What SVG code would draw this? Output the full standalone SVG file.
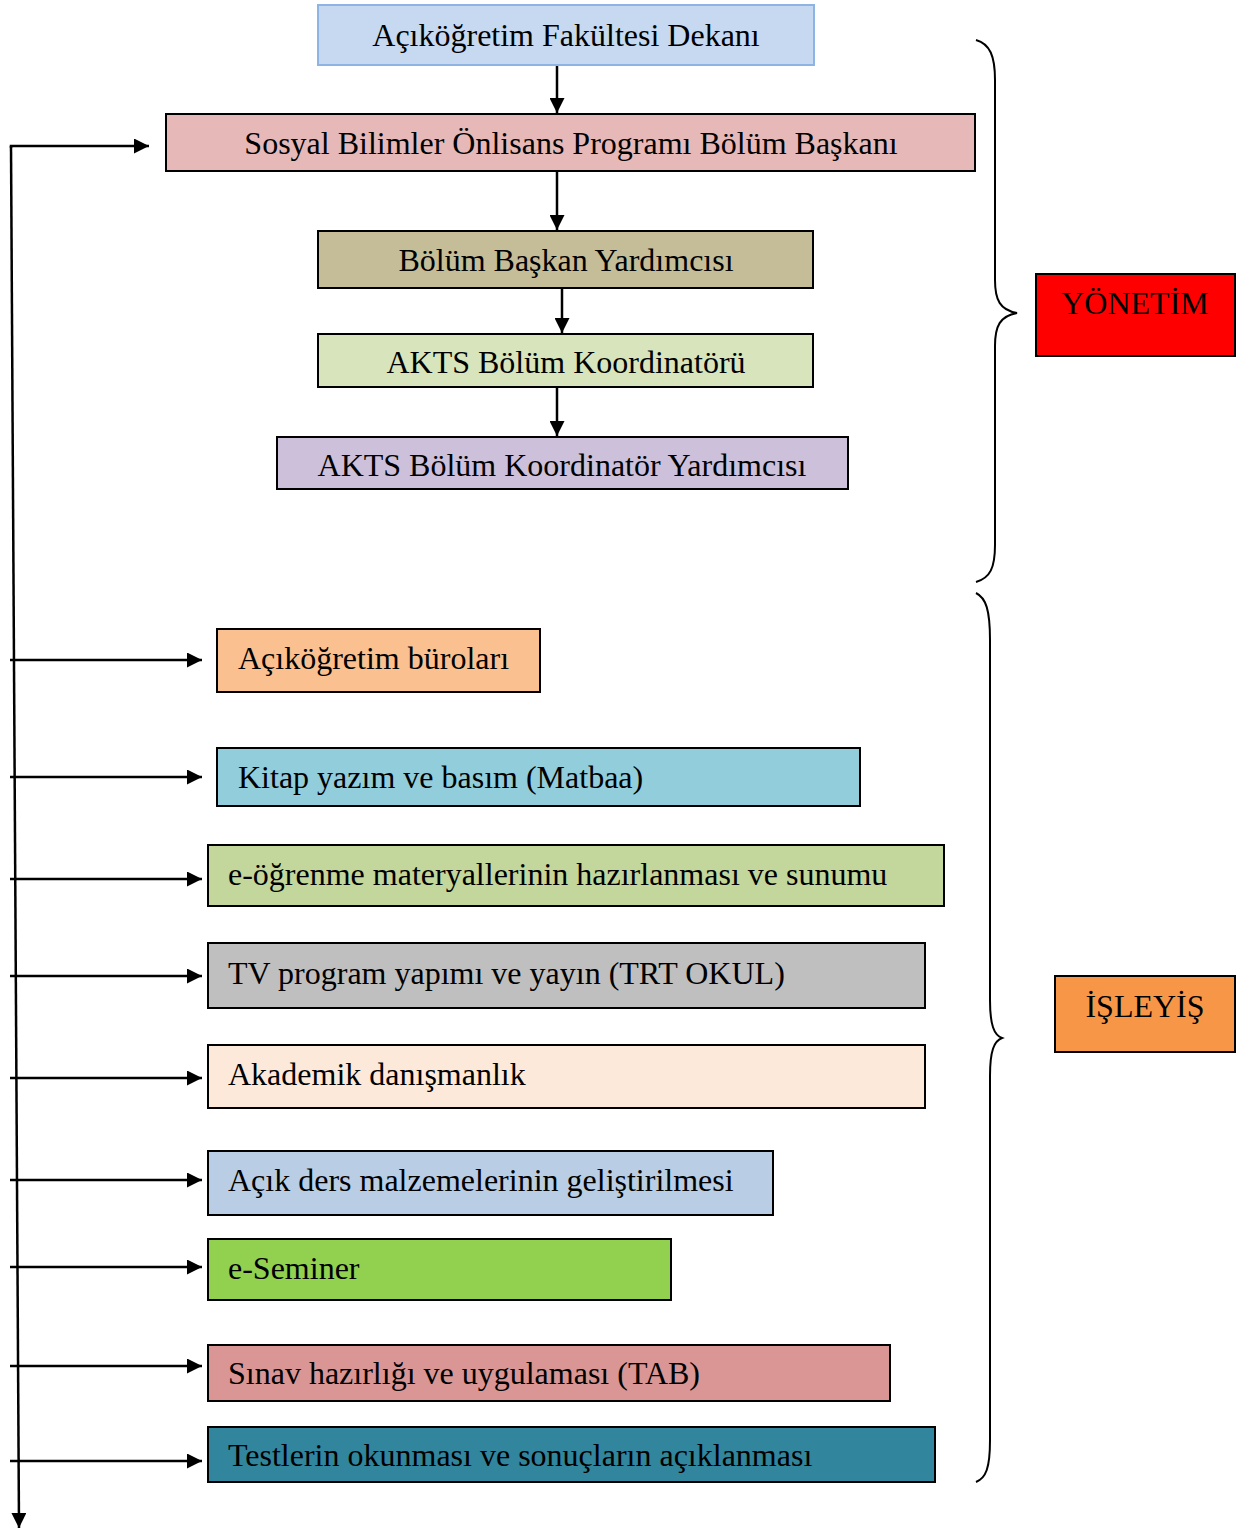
<svg xmlns="http://www.w3.org/2000/svg" width="1257" height="1531" viewBox="0 0 1257 1531">
<style>
.box{stroke:#000;stroke-width:2}
.t{font-family:"Liberation Serif","Times New Roman",serif;font-size:32px;fill:#000}
.c{text-anchor:middle}
.ln{stroke:#000;stroke-width:2.5;fill:none}
.br{stroke:#000;stroke-width:2;fill:none}
</style>
<defs>
<marker id="ah" viewBox="0 0 10 10" refX="10" refY="5" markerWidth="6" markerHeight="6" markerUnits="strokeWidth" orient="auto">
<path d="M0,0 L10,5 L0,10 Z" fill="#000"/>
</marker>
</defs>
<rect width="1257" height="1531" fill="#fff"/>
<g id="connectors">
<line class="ln" x1="557" y1="65" x2="557" y2="113" marker-end="url(#ah)"/>
<line class="ln" x1="557" y1="171" x2="557" y2="230" marker-end="url(#ah)"/>
<line class="ln" x1="562" y1="288" x2="562" y2="333" marker-end="url(#ah)"/>
<line class="ln" x1="557" y1="387" x2="557" y2="436" marker-end="url(#ah)"/>
<polyline class="ln" points="11,148 11,146 149,146" marker-end="url(#ah)"/>
<line class="ln" x1="11" y1="146" x2="19" y2="1528" marker-end="url(#ah)"/>
<line class="ln" x1="10" y1="660" x2="202" y2="660" marker-end="url(#ah)"/>
<line class="ln" x1="10" y1="777" x2="202" y2="777" marker-end="url(#ah)"/>
<line class="ln" x1="10" y1="879" x2="202" y2="879" marker-end="url(#ah)"/>
<line class="ln" x1="10" y1="976" x2="202" y2="976" marker-end="url(#ah)"/>
<line class="ln" x1="10" y1="1078" x2="202" y2="1078" marker-end="url(#ah)"/>
<line class="ln" x1="10" y1="1180" x2="202" y2="1180" marker-end="url(#ah)"/>
<line class="ln" x1="10" y1="1267" x2="202" y2="1267" marker-end="url(#ah)"/>
<line class="ln" x1="10" y1="1366" x2="202" y2="1366" marker-end="url(#ah)"/>
<line class="ln" x1="10" y1="1461" x2="202" y2="1461" marker-end="url(#ah)"/>
</g>
<g id="brace-yonetim">
<path class="br" d="M976,40 C990,44 995,56 995,80 L995,280 C995,300 1000,310 1017,313 C1000,316 995,326 995,346 L995,545 C995,568 990,578 976,582"/>
</g>
<g id="brace-isleyis">
<path class="br" d="M976,593 C986,598 990,610 990,640 L990,1000 C990,1025 994,1035 1002,1038 C994,1041 990,1051 990,1076 L990,1440 C990,1468 986,1478 976,1482"/>
</g>
<g id="n-dekan">
<rect x="318" y="5" width="496" height="60" fill="#c6d9f1" stroke="#8eb4e3" stroke-width="2"/>
<text class="t c" x="566" y="46">Açıköğretim Fakültesi Dekanı</text>
</g>
<g id="n-baskan">
<rect class="box" x="166" y="114" width="809" height="57" fill="#e6b9b8"/>
<text class="t c" x="571" y="154">Sosyal Bilimler Önlisans Programı Bölüm Başkanı</text>
</g>
<g id="n-baskan-yrd">
<rect class="box" x="318" y="231" width="495" height="57" fill="#c4bd97"/>
<text class="t c" x="566" y="271">Bölüm Başkan Yardımcısı</text>
</g>
<g id="n-akts">
<rect class="box" x="318" y="334" width="495" height="53" fill="#d7e4bc"/>
<text class="t c" x="566" y="373">AKTS Bölüm Koordinatörü</text>
</g>
<g id="n-akts-yrd">
<rect class="box" x="277" y="437" width="571" height="52" fill="#ccc0da"/>
<text class="t c" x="562" y="476">AKTS Bölüm Koordinatör Yardımcısı</text>
</g>
<g id="n-yonetim">
<rect class="box" x="1036" y="274" width="199" height="82" fill="#ff0000"/>
<text class="t c" x="1135" y="314">YÖNETİM</text>
</g>
<g id="n-isleyis">
<rect class="box" x="1055" y="976" width="180" height="76" fill="#f79646"/>
<text class="t c" x="1145" y="1017">İŞLEYİŞ</text>
</g>
<g id="n-burolar">
<rect class="box" x="217" y="629" width="323" height="63" fill="#fac090"/>
<text class="t" x="238" y="669">Açıköğretim büroları</text>
</g>
<g id="n-kitap">
<rect class="box" x="217" y="748" width="643" height="58" fill="#92cddc"/>
<text class="t" x="238" y="788">Kitap yazım ve basım (Matbaa)</text>
</g>
<g id="n-eogrenme">
<rect class="box" x="208" y="845" width="736" height="61" fill="#c3d69b"/>
<text class="t" x="228" y="885">e-öğrenme materyallerinin hazırlanması ve sunumu</text>
</g>
<g id="n-tv">
<rect class="box" x="208" y="943" width="717" height="65" fill="#bfbfbf"/>
<text class="t" x="228" y="984">TV program yapımı ve yayın (TRT OKUL)</text>
</g>
<g id="n-akademik">
<rect class="box" x="208" y="1045" width="717" height="63" fill="#fde9d9"/>
<text class="t" x="228" y="1085">Akademik danışmanlık</text>
</g>
<g id="n-acikders">
<rect class="box" x="208" y="1151" width="565" height="64" fill="#b9cde5"/>
<text class="t" x="228" y="1191">Açık ders malzemelerinin geliştirilmesi</text>
</g>
<g id="n-eseminer">
<rect class="box" x="208" y="1239" width="463" height="61" fill="#92d050"/>
<text class="t" x="228" y="1279">e-Seminer</text>
</g>
<g id="n-sinav">
<rect class="box" x="208" y="1345" width="682" height="56" fill="#d99694"/>
<text class="t" x="228" y="1384">Sınav hazırlığı ve uygulaması (TAB)</text>
</g>
<g id="n-testler">
<rect class="box" x="208" y="1427" width="727" height="55" fill="#31859c"/>
<text class="t" x="228" y="1466">Testlerin okunması ve sonuçların açıklanması</text>
</g>
</svg>
